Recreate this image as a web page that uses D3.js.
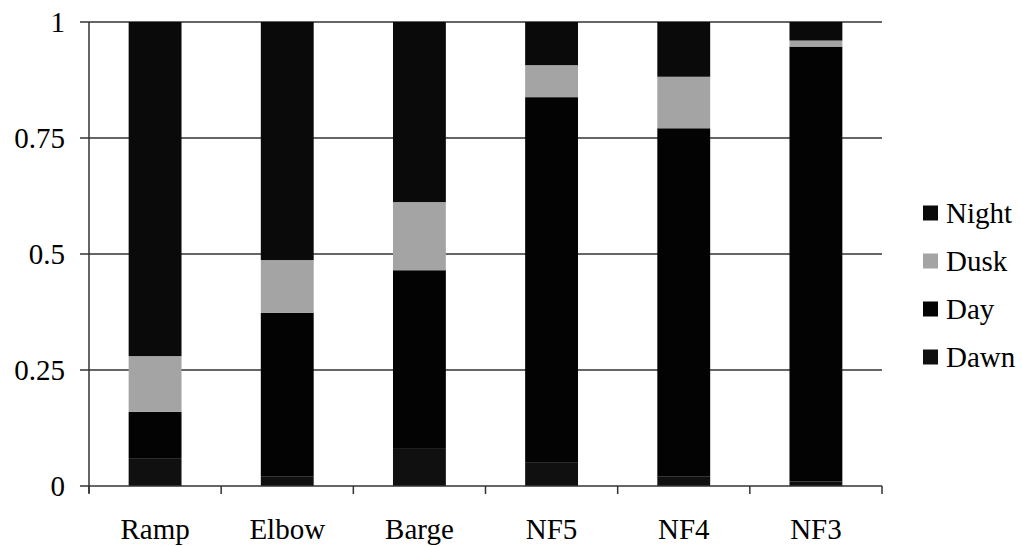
<!DOCTYPE html>
<html>
<head>
<meta charset="utf-8">
<script src="https://cdn.jsdelivr.net/npm/d3@7"></script>
<style>
  html, body { margin: 0; padding: 0; background: #fff; }
  svg { display: block; }
</style>
</head>
<body>
<svg id="chart" width="1022" height="546"></svg>
<script>
// Share of observations by time of day at each site
const sites = ["Ramp", "Elbow", "Barge", "NF5", "NF4", "NF3"];
const dawn  = [0.06, 0.02, 0.08, 0.05, 0.02, 0.01];
const day   = [0.10, 0.353, 0.385, 0.788, 0.751, 0.937];
const dusk  = [0.12, 0.114, 0.147, 0.069, 0.111, 0.013];
const night = [0.72, 0.513, 0.388, 0.093, 0.118, 0.04];
const yTicks = [0, 0.25, 0.5, 0.75, 1];
const yTickLabels = ["0", "0.25", "0.5", "0.75", "1"];

(function () {
  const seriesNames = ["Dawn", "Day", "Dusk", "Night"];
  const seriesColors = { Dawn: "#101010", Day: "#030303", Dusk: "#a4a4a4", Night: "#0a0a0a" };
  const legendOrder = ["Night", "Dusk", "Day", "Dawn"];
  const serif = "'Liberation Serif', 'Times New Roman', Times, 'Nimbus Roman', 'Noto Serif', 'DejaVu Serif', FreeSerif, serif";

  const rows = sites.map((s, i) => ({ site: s, Dawn: dawn[i], Day: day[i], Dusk: dusk[i], Night: night[i] }));

  const svg = d3.select("#chart");
  const plotLeft = 89, plotRight = 882, plotTop = 22, plotBottom = 486;

  const x = d3.scaleBand().domain(sites).range([plotLeft, plotRight]).padding(0);
  const y = d3.scaleLinear().domain([0, 1]).range([plotBottom, plotTop]);
  const barW = x.bandwidth() * 0.4;

  // horizontal gridlines
  svg.append("g").selectAll("line").data(yTicks.filter(t => t > 0)).join("line")
    .attr("x1", plotLeft).attr("x2", plotRight)
    .attr("y1", d => y(d)).attr("y2", d => y(d))
    .attr("stroke", "#333").attr("stroke-width", 1.5);

  // stacked bars
  const stack = d3.stack().keys(seriesNames)(rows);
  svg.append("g").selectAll("g").data(stack).join("g")
    .attr("fill", d => seriesColors[d.key])
    .selectAll("rect").data(d => d).join("rect")
    .attr("x", d => x(d.data.site) + (x.bandwidth() - barW) / 2)
    .attr("width", barW)
    .attr("y", d => y(d[1]))
    .attr("height", d => y(d[0]) - y(d[1]));

  // y axis
  const yAxis = svg.append("g");
  yAxis.append("line")
    .attr("x1", plotLeft).attr("x2", plotLeft).attr("y1", plotTop).attr("y2", plotBottom + 7)
    .attr("stroke", "#333").attr("stroke-width", 1.5);
  yAxis.selectAll("line.tick").data(yTicks).join("line").attr("class", "tick")
    .attr("x1", plotLeft - 9).attr("x2", plotLeft)
    .attr("y1", d => y(d)).attr("y2", d => y(d))
    .attr("stroke", "#333").attr("stroke-width", 1.5);
  yAxis.selectAll("text").data(yTicks).join("text")
    .attr("x", 65).attr("y", d => y(d))
    .attr("text-anchor", "end").attr("dominant-baseline", "central")
    .style("font-family", serif)
    .attr("font-size", 29).attr("fill", "#000")
    .text((d, i) => yTickLabels[i]);

  // x axis
  const xAxis = svg.append("g");
  xAxis.append("line")
    .attr("x1", plotLeft).attr("x2", plotRight).attr("y1", plotBottom).attr("y2", plotBottom)
    .attr("stroke", "#333").attr("stroke-width", 1.5);
  const bounds = sites.map(s => x(s)).concat([x(sites[sites.length - 1]) + x.bandwidth()]);
  xAxis.selectAll("line.tick").data(bounds).join("line").attr("class", "tick")
    .attr("x1", d => d).attr("x2", d => d)
    .attr("y1", plotBottom).attr("y2", plotBottom + 8)
    .attr("stroke", "#333").attr("stroke-width", 1.5);
  xAxis.selectAll("text").data(sites).join("text")
    .attr("x", d => x(d) + x.bandwidth() / 2).attr("y", 539)
    .attr("text-anchor", "middle")
    .style("font-family", serif)
    .attr("font-size", 29).attr("fill", "#000")
    .text(d => d);

  // legend
  const legend = svg.append("g").selectAll("g").data(legendOrder).join("g")
    .attr("transform", (d, i) => `translate(923, ${213 + i * 48})`);
  legend.append("rect")
    .attr("x", 0).attr("y", -7.5).attr("width", 15).attr("height", 15)
    .attr("fill", d => seriesColors[d]);
  legend.append("text")
    .attr("x", 23).attr("y", 10)
    .style("font-family", serif)
    .attr("font-size", 29).attr("fill", "#000")
    .text(d => d);
})();
</script>
</body>
</html>
